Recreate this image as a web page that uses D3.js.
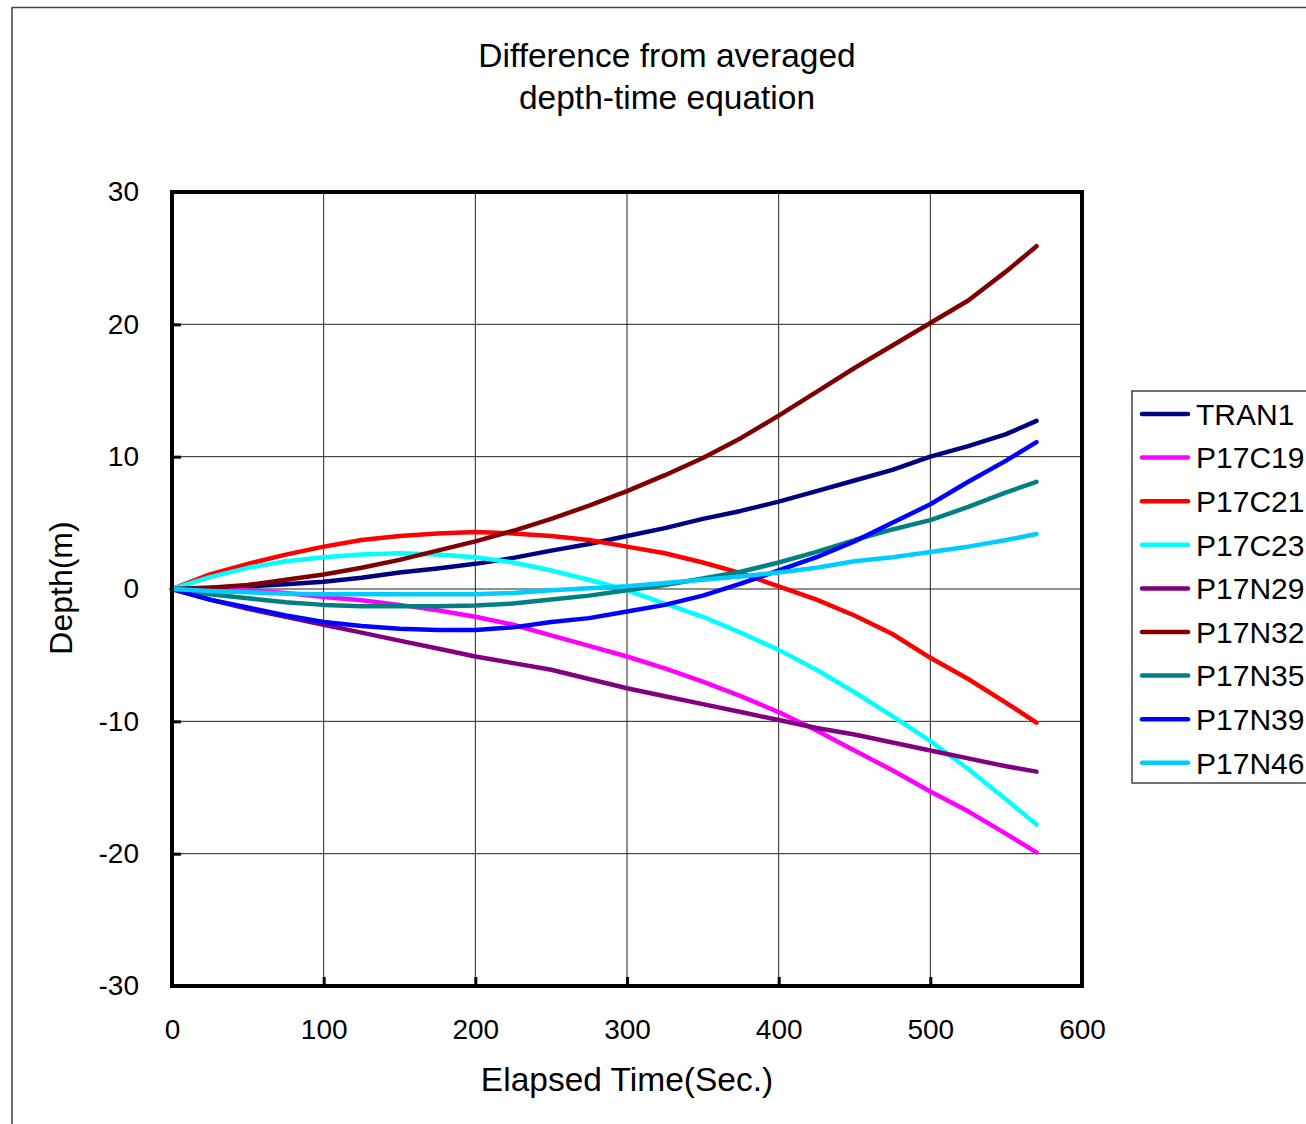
<!DOCTYPE html>
<html>
<head>
<meta charset="utf-8">
<script src="https://cdn.jsdelivr.net/npm/d3@7"></script>
<style>
  body { margin: 0; background: #fff; }
  text { font-family: "Liberation Sans", Arial, sans-serif; fill: #000; }
</style>
</head>
<body>
<div class="chart"></div>
<script>
// elapsed time (sec) for every reading
let times = [0, 25, 50, 75, 100, 125, 150, 175, 200, 225, 250, 275, 300, 325, 350, 375, 400, 425, 450, 475, 500, 525, 550, 570];

// difference from averaged depth-time equation (m), one array per float
let tran1  = [0, 0.1, 0.2, 0.35, 0.55, 0.85, 1.25, 1.55, 1.9, 2.35, 2.9, 3.4, 4.0, 4.6, 5.3, 5.9, 6.6, 7.4, 8.2, 9.0, 10.0, 10.8, 11.7, 12.7];
let p17c19 = [0, -0.05, -0.1, -0.3, -0.6, -0.85, -1.2, -1.6, -2.1, -2.7, -3.5, -4.3, -5.1, -6.0, -7.0, -8.1, -9.3, -10.7, -12.2, -13.7, -15.3, -16.8, -18.5, -19.9];
let p17c21 = [0, 1.1, 1.9, 2.6, 3.2, 3.7, 4.0, 4.2, 4.3, 4.2, 4.0, 3.7, 3.2, 2.7, 2.0, 1.2, 0.2, -0.8, -2.0, -3.4, -5.2, -6.8, -8.6, -10.1];
let p17c23 = [0, 0.9, 1.6, 2.1, 2.4, 2.6, 2.7, 2.6, 2.4, 2.0, 1.4, 0.7, -0.1, -1.1, -2.1, -3.3, -4.6, -6.1, -7.8, -9.6, -11.5, -13.6, -15.9, -17.8];
let p17n29 = [0, -0.8, -1.5, -2.1, -2.7, -3.3, -3.9, -4.5, -5.1, -5.6, -6.1, -6.8, -7.5, -8.1, -8.7, -9.3, -9.9, -10.5, -11.0, -11.6, -12.2, -12.8, -13.4, -13.8];
let p17n32 = [0, 0.1, 0.3, 0.7, 1.1, 1.6, 2.2, 2.9, 3.6, 4.4, 5.3, 6.3, 7.4, 8.6, 9.9, 11.4, 13.1, 14.9, 16.7, 18.4, 20.1, 21.8, 24.0, 25.9];
let p17n35 = [0, -0.4, -0.7, -1.0, -1.2, -1.3, -1.3, -1.3, -1.25, -1.1, -0.8, -0.5, -0.1, 0.3, 0.8, 1.3, 2.0, 2.8, 3.7, 4.5, 5.2, 6.2, 7.3, 8.1];
let p17n39 = [0, -0.8, -1.4, -2.0, -2.5, -2.8, -3.0, -3.1, -3.1, -2.9, -2.5, -2.2, -1.7, -1.2, -0.5, 0.4, 1.4, 2.4, 3.6, 5.0, 6.4, 8.1, 9.7, 11.1];
let p17n46 = [0, -0.15, -0.25, -0.35, -0.4, -0.4, -0.4, -0.4, -0.4, -0.3, -0.1, 0.05, 0.2, 0.45, 0.7, 0.95, 1.25, 1.6, 2.1, 2.4, 2.8, 3.2, 3.7, 4.15];

let seriesNames = ["TRAN1", "P17C19", "P17C21", "P17C23", "P17N29", "P17N32", "P17N35", "P17N39", "P17N46"];
let seriesValues = [tran1, p17c19, p17c21, p17c23, p17n29, p17n32, p17n35, p17n39, p17n46];
let seriesColors = ["#000080", "#ff00ff", "#ff0000", "#00ffff", "#800080", "#800000", "#008080", "#0000ff", "#00ccff"];

let xTicks = [0, 100, 200, 300, 400, 500, 600];
let yTicks = [-30, -20, -10, 0, 10, 20, 30];

// svg size
let svgW = 1306;
let svgH = 1124;

// plot area inside the svg
let plot = { left: 172, top: 192, right: 1082, bottom: 986 };

let svg = d3.select(".chart")
  .append("svg")
  .attr("width", svgW)
  .attr("height", svgH);

// outer chart border (runs off the right and bottom edges)
svg.append("rect")
  .attr("x", 12)
  .attr("y", 7.5)
  .attr("width", 1400)
  .attr("height", 1200)
  .attr("fill", "none")
  .attr("stroke", "#444")
  .attr("stroke-width", 1.5);

let x = d3.scaleLinear().domain([0, 600]).range([plot.left, plot.right]);
let y = d3.scaleLinear().domain([-30, 30]).range([plot.bottom, plot.top]);

// gridlines
svg.append("g")
  .selectAll("line")
  .data(xTicks.slice(1, -1))
  .enter()
  .append("line")
  .attr("x1", d => x(d)).attr("x2", d => x(d))
  .attr("y1", plot.top).attr("y2", plot.bottom)
  .attr("stroke", "#222")
  .attr("stroke-width", 1);

svg.append("g")
  .selectAll("line")
  .data(yTicks.slice(1, -1))
  .enter()
  .append("line")
  .attr("x1", plot.left).attr("x2", plot.right)
  .attr("y1", d => y(d)).attr("y2", d => y(d))
  .attr("stroke", "#222")
  .attr("stroke-width", 1);

// axes: ticks point into the plot, plain hyphen for negatives
let plainFormat = d => String(d);
let bottomAxis = d3.axisBottom(x).tickValues(xTicks).tickFormat(plainFormat).tickSizeInner(-9).tickSizeOuter(0).tickPadding(33);
let leftAxis = d3.axisLeft(y).tickValues(yTicks).tickFormat(plainFormat).tickSizeInner(-9).tickSizeOuter(0).tickPadding(33);

let xAxis = svg.append("g")
  .attr("transform", `translate(0, ${plot.bottom})`)
  .call(bottomAxis);

let yAxis = svg.append("g")
  .attr("transform", `translate(${plot.left}, 0)`)
  .call(leftAxis);

[xAxis, yAxis].forEach(function(ax) {
  ax.select(".domain").remove();
  ax.selectAll(".tick line").attr("stroke", "#000").attr("stroke-width", 3);
  ax.selectAll(".tick text")
    .style("font-family", "'Liberation Sans', Arial, sans-serif")
    .style("font-size", "28px")
    .attr("fill", "#000");
});

// series lines
let line = d3.line()
  .x((d, i) => x(times[i]))
  .y(d => y(d));

svg.append("g")
  .selectAll("path")
  .data(seriesValues)
  .enter()
  .append("path")
  .attr("d", d => line(d))
  .attr("fill", "none")
  .attr("stroke", (d, i) => seriesColors[i])
  .attr("stroke-width", 4.5)
  .attr("stroke-linejoin", "round")
  .attr("stroke-linecap", "round");

// heavy plot frame
svg.append("rect")
  .attr("x", plot.left)
  .attr("y", plot.top)
  .attr("width", plot.right - plot.left)
  .attr("height", plot.bottom - plot.top)
  .attr("fill", "none")
  .attr("stroke", "#000")
  .attr("stroke-width", 4);

// title
svg.append("text")
  .attr("x", 667).attr("y", 67)
  .attr("text-anchor", "middle")
  .style("font-size", "33.5px")
  .text("Difference from averaged");

svg.append("text")
  .attr("x", 667).attr("y", 109)
  .attr("text-anchor", "middle")
  .style("font-size", "33.5px")
  .text("depth-time equation");

// axis titles
svg.append("text")
  .attr("x", 627).attr("y", 1091)
  .attr("text-anchor", "middle")
  .style("font-size", "33.5px")
  .text("Elapsed Time(Sec.)");

svg.append("text")
  .attr("transform", "translate(72, 588) rotate(-90)")
  .attr("text-anchor", "middle")
  .style("font-size", "32px")
  .text("Depth(m)");

// legend box
let legend = svg.append("g");

legend.append("rect")
  .attr("x", 1132)
  .attr("y", 391)
  .attr("width", 300)
  .attr("height", 392)
  .attr("fill", "#fff")
  .attr("stroke", "#444")
  .attr("stroke-width", 1.5);

let rows = legend.selectAll("g.row")
  .data(seriesNames)
  .enter()
  .append("g")
  .attr("class", "row")
  .attr("transform", (d, i) => `translate(0, ${414 + i * 43.6})`);

rows.append("line")
  .attr("x1", 1142).attr("x2", 1188)
  .attr("y1", 0).attr("y2", 0)
  .attr("stroke", (d, i) => seriesColors[i])
  .attr("stroke-width", 4.5)
  .attr("stroke-linecap", "round");

rows.append("text")
  .attr("x", 1196)
  .attr("y", 0)
  .attr("dy", "0.36em")
  .style("font-size", "30px")
  .text(d => d);
</script>
</body>
</html>
